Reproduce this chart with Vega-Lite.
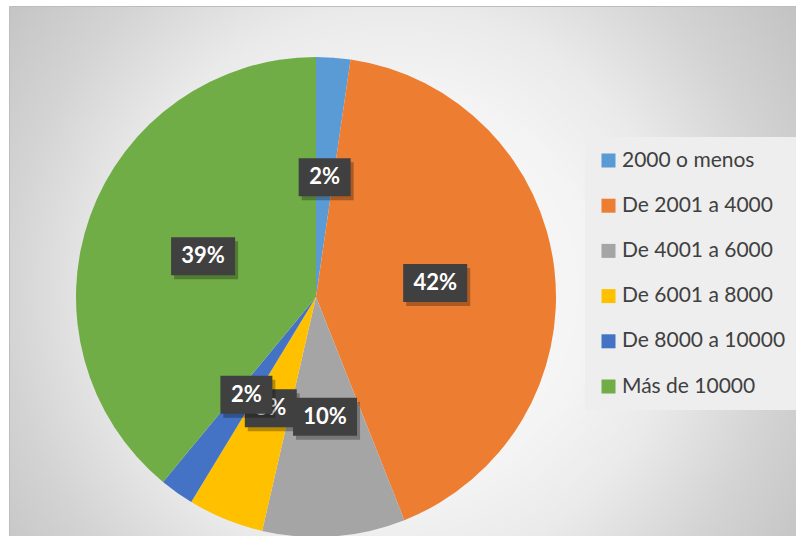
{
  "$schema": "https://vega.github.io/schema/vega-lite/v6.json",
  "width": 787,
  "height": 530,
  "padding": {"left": 9, "top": 6, "right": 0, "bottom": 0},
  "autosize": {"type": "none"},
  "background": "white",
  "config": {
    "view": {
      "fill": {
        "gradient": "radial",
        "x1": 0.49, "y1": 0.524, "r1": 0,
        "x2": 0.49, "y2": 0.524, "r2": 0.62,
        "stops": [
          {"offset": 0, "color": "#fafafa"},
          {"offset": 0.4, "color": "#f4f4f4"},
          {"offset": 0.58, "color": "#eaeaea"},
          {"offset": 0.8, "color": "#d3d3d3"},
          {"offset": 1, "color": "#c3c3c3"}
        ]
      },
      "stroke": "#bdbdbd",
      "strokeWidth": 1
    },
    "legend": {
      "orient": "none",
      "legendX": 576,
      "legendY": 131,
      "fillColor": "#eeeeee",
      "padding": 13,
      "symbolType": "square",
      "symbolSize": 196,
      "symbolStrokeWidth": 0,
      "labelFont": "Lato",
      "labelFontSize": 21,
      "labelColor": "#404040",
      "labelOffset": 3,
      "rowPadding": 23.2,
      "labelLimit": 300
    }
  },
  "data": {
    "values": [
      {"cat": "2000 o menos", "v": 2.3},
      {"cat": "De 2001 a 4000", "v": 41.7},
      {"cat": "De 4001 a 6000", "v": 9.6},
      {"cat": "De 6001 a 8000", "v": 5.1},
      {"cat": "De 8000 a 10000", "v": 2.3},
      {"cat": "Más de 10000", "v": 39.0}
    ]
  },
  "transform": [
    {"joinaggregate": [{"op": "sum", "field": "v", "as": "total"}]},
    {"window": [{"op": "sum", "field": "v", "as": "cum"}], "sort": [{"field": "cat", "order": "ascending"}], "frame": [null, 0]},
    {"calculate": "2*PI*(datum.cum - datum.v/2)/datum.total", "as": "a"},
    {"calculate": "0.5*sin(datum.a)", "as": "lx"},
    {"calculate": "0.5*cos(datum.a)", "as": "ly"},
    {"calculate": "round(100*datum.v/datum.total) + '%'", "as": "label"}
  ],
  "layer": [
    {
      "mark": {"type": "arc", "outerRadius": 240, "strokeWidth": 0},
      "encoding": {
        "theta": {"field": "v", "type": "quantitative", "stack": true},
        "color": {
          "field": "cat", "type": "nominal", "title": null,
          "scale": {
            "domain": ["2000 o menos", "De 2001 a 4000", "De 4001 a 6000", "De 6001 a 8000", "De 8000 a 10000", "Más de 10000"],
            "range": ["#5B9BD5", "#ED7D31", "#A5A5A5", "#FFC000", "#4472C4", "#70AD47"]
          }
        },
        "x": {"datum": 0, "type": "quantitative", "scale": {"domain": [-1.27917, 2.0], "nice": false, "zero": false}, "axis": null},
        "y": {"datum": 0, "type": "quantitative", "scale": {"domain": [-0.99583, 1.2125], "nice": false, "zero": false}, "axis": null}
      }
    },
    {
      "transform": [{"filter": "datum.cat == 'De 6001 a 8000'"}],
      "mark": {"type": "point", "filled": true, "color": "#000000", "opacity": 0.28, "size": 1444, "strokeWidth": 0, "xOffset": 3, "yOffset": 4},
      "encoding": {
        "x": {"field": "lx", "type": "quantitative", "scale": {"domain": [-1.27917, 2.0], "nice": false, "zero": false}, "axis": null},
        "y": {"field": "ly", "type": "quantitative", "scale": {"domain": [-0.99583, 1.2125], "nice": false, "zero": false}, "axis": null},
        "shape": {"condition": {"test": "datum.v >= 9.5", "value": "M-1.684,-1H1.684V1H-1.684Z"}, "value": "M-1.368,-1H1.368V1H-1.368Z"}
      }
    },
    {
      "transform": [{"filter": "datum.cat == 'De 6001 a 8000'"}],
      "mark": {"type": "point", "filled": true, "color": "#404040", "opacity": 1, "size": 1444, "strokeWidth": 0},
      "encoding": {
        "x": {"field": "lx", "type": "quantitative", "scale": {"domain": [-1.27917, 2.0], "nice": false, "zero": false}, "axis": null},
        "y": {"field": "ly", "type": "quantitative", "scale": {"domain": [-0.99583, 1.2125], "nice": false, "zero": false}, "axis": null},
        "shape": {"condition": {"test": "datum.v >= 9.5", "value": "M-1.684,-1H1.684V1H-1.684Z"}, "value": "M-1.368,-1H1.368V1H-1.368Z"}
      }
    },
    {
      "transform": [{"filter": "datum.cat == 'De 6001 a 8000'"}],
      "mark": {"type": "text", "color": "white", "font": "Lato", "fontWeight": "bold", "fontSize": 22, "align": "center", "baseline": "middle"},
      "encoding": {
        "x": {"field": "lx", "type": "quantitative", "scale": {"domain": [-1.27917, 2.0], "nice": false, "zero": false}, "axis": null},
        "y": {"field": "ly", "type": "quantitative", "scale": {"domain": [-0.99583, 1.2125], "nice": false, "zero": false}, "axis": null},
        "text": {"field": "label", "type": "nominal"}
      }
    },
    {
      "transform": [{"filter": "datum.cat != 'De 6001 a 8000'"}],
      "mark": {"type": "point", "filled": true, "color": "#000000", "opacity": 0.28, "size": 1444, "strokeWidth": 0, "xOffset": 3, "yOffset": 4},
      "encoding": {
        "x": {"field": "lx", "type": "quantitative", "scale": {"domain": [-1.27917, 2.0], "nice": false, "zero": false}, "axis": null},
        "y": {"field": "ly", "type": "quantitative", "scale": {"domain": [-0.99583, 1.2125], "nice": false, "zero": false}, "axis": null},
        "shape": {"condition": {"test": "datum.v >= 9.5", "value": "M-1.684,-1H1.684V1H-1.684Z"}, "value": "M-1.368,-1H1.368V1H-1.368Z"}
      }
    },
    {
      "transform": [{"filter": "datum.cat != 'De 6001 a 8000'"}],
      "mark": {"type": "point", "filled": true, "color": "#404040", "opacity": 1, "size": 1444, "strokeWidth": 0},
      "encoding": {
        "x": {"field": "lx", "type": "quantitative", "scale": {"domain": [-1.27917, 2.0], "nice": false, "zero": false}, "axis": null},
        "y": {"field": "ly", "type": "quantitative", "scale": {"domain": [-0.99583, 1.2125], "nice": false, "zero": false}, "axis": null},
        "shape": {"condition": {"test": "datum.v >= 9.5", "value": "M-1.684,-1H1.684V1H-1.684Z"}, "value": "M-1.368,-1H1.368V1H-1.368Z"}
      }
    },
    {
      "transform": [{"filter": "datum.cat != 'De 6001 a 8000'"}],
      "mark": {"type": "text", "color": "white", "font": "Lato", "fontWeight": "bold", "fontSize": 22, "align": "center", "baseline": "middle"},
      "encoding": {
        "x": {"field": "lx", "type": "quantitative", "scale": {"domain": [-1.27917, 2.0], "nice": false, "zero": false}, "axis": null},
        "y": {"field": "ly", "type": "quantitative", "scale": {"domain": [-0.99583, 1.2125], "nice": false, "zero": false}, "axis": null},
        "text": {"field": "label", "type": "nominal"}
      }
    }
  ]
}
